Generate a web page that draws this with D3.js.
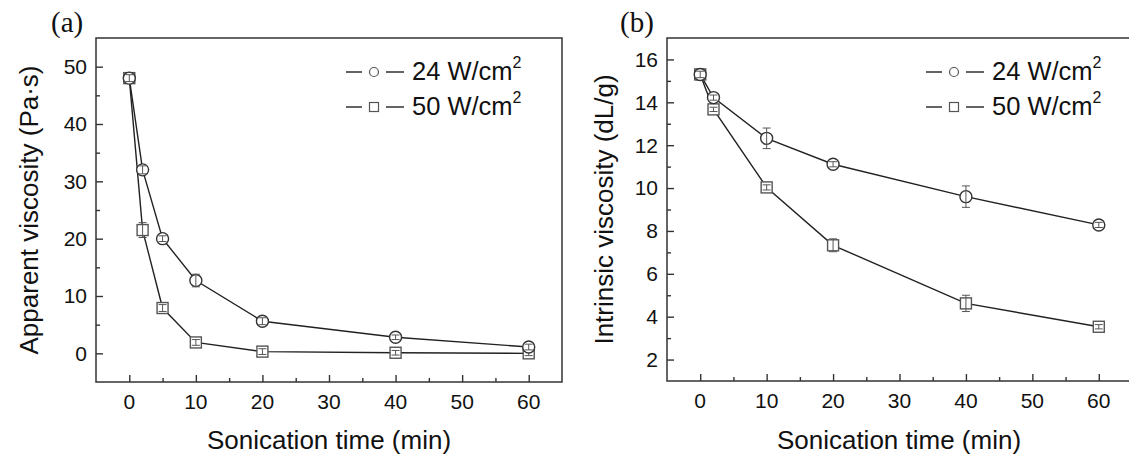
<!DOCTYPE html>
<html>
<head>
<meta charset="utf-8">
<script src="https://cdn.jsdelivr.net/npm/d3@7"></script>
<style>
  body { margin: 0; background: #fff; }
  svg { display: block; }
</style>
</head>
<body>
<script>
'use strict';

// panel (a): apparent viscosity
const timesA = [0, 2, 5, 10, 20, 40, 60];
const viscA24 = [48.0, 32.0, 20.0, 12.7, 5.6, 2.8, 1.1];
const errA24 = [0.6, 0.7, 0.5, 1.1, 0.6, 0.4, 0.5];
const viscA50 = [48.0, 21.5, 7.9, 1.9, 0.3, 0.1, 0.0];
const errA50 = [0.5, 1.3, 0.6, 0.5, 0.5, 0.4, 0.4];

// panel (b): intrinsic viscosity
const timesB = [0, 2, 10, 20, 40, 60];
const viscB24 = [15.3, 14.22, 12.32, 11.11, 9.6, 8.28];
const errB24 = [0.15, 0.12, 0.48, 0.12, 0.5, 0.12];
const viscB50 = [15.3, 13.67, 10.03, 7.33, 4.62, 3.53];
const errB50 = [0.25, 0.1, 0.12, 0.3, 0.38, 0.1];

const xTicks = [0, 10, 20, 30, 40, 50, 60];
const yTicksA = [0, 10, 20, 30, 40, 50];
const yTicksB = [2, 4, 6, 8, 10, 12, 14, 16];
const seriesNames = ['24 W/cm', '50 W/cm'];

(function() {

  let svg = d3.select('body')
    .append('svg')
    .attr('width', 1129)
    .attr('height', 461);

  const sans = '"Liberation Sans", Arial, sans-serif';
  const serif = '"Liberation Serif", "Times New Roman", serif';

  drawPanel({
    left: 96, right: 562, top: 38, bottom: 382,
    xDomain: [-5, 65], yDomain: [-5, 55],
    yTicks: yTicksA, yMinor: d3.range(5, 55, 10),
    times: timesA,
    series: [
      { values: viscA50, err: errA50, shape: 'square' },
      { values: viscA24, err: errA24, shape: 'circle' }
    ],
    label: '(a)', labelX: 51,
    yTitle: 'Apparent viscosity (Pa\u00B7s)', yTitleX: 38,
    legendX: 346
  });

  drawPanel({
    left: 667, right: 1132, top: 38, bottom: 381,
    xDomain: [-5, 65], yDomain: [1, 17],
    yTicks: yTicksB, yMinor: d3.range(3, 17, 2),
    times: timesB,
    series: [
      { values: viscB50, err: errB50, shape: 'square' },
      { values: viscB24, err: errB24, shape: 'circle' }
    ],
    label: '(b)', labelX: 620,
    yTitle: 'Intrinsic viscosity (dL/g)', yTitleX: 613,
    legendX: 926
  });

  function drawPanel(p) {
    let g = svg.append('g');

    let xScale = d3.scaleLinear().domain(p.xDomain).range([p.left, p.right]);
    let yScale = d3.scaleLinear().domain(p.yDomain).range([p.bottom, p.top]);

    // frame
    g.append('rect')
      .attr('x', p.left)
      .attr('y', p.top)
      .attr('width', p.right - p.left)
      .attr('height', p.bottom - p.top)
      .attr('fill', 'none')
      .attr('stroke', '#333')
      .attr('stroke-width', 1.5);

    // x axis: ticks inward, labels below
    let xAxis = d3.axisTop(xScale)
      .tickValues(xTicks)
      .tickSize(7)
      .tickFormat('');
    let xg = g.append('g')
      .attr('transform', 'translate(0,' + p.bottom + ')')
      .call(xAxis);
    let xMinor = d3.axisTop(xScale)
      .tickValues(d3.range(5, 65, 10))
      .tickSize(4)
      .tickFormat('');
    let xmg = g.append('g')
      .attr('transform', 'translate(0,' + p.bottom + ')')
      .call(xMinor);

    // y axis: ticks inward, labels left
    let yAxis = d3.axisRight(yScale)
      .tickValues(p.yTicks)
      .tickSize(7)
      .tickFormat('');
    let yg = g.append('g')
      .attr('transform', 'translate(' + p.left + ',0)')
      .call(yAxis);
    let yMinorAxis = d3.axisRight(yScale)
      .tickValues(p.yMinor)
      .tickSize(4)
      .tickFormat('');
    let ymg = g.append('g')
      .attr('transform', 'translate(' + p.left + ',0)')
      .call(yMinorAxis);

    [xg, xmg, yg, ymg].forEach(function(a) {
      a.select('.domain').remove();
      a.selectAll('line').attr('stroke', '#333').attr('stroke-width', 1.4);
    });

    // tick labels
    g.selectAll('.xlab')
      .data(xTicks)
      .enter()
      .append('text')
      .attr('x', d => xScale(d))
      .attr('y', p.bottom + 27)
      .attr('text-anchor', 'middle')
      .style('font', '21px ' + sans)
      .attr('fill', '#111')
      .text(d => d);

    g.selectAll('.ylab')
      .data(p.yTicks)
      .enter()
      .append('text')
      .attr('x', p.left - 9)
      .attr('y', d => yScale(d))
      .attr('dy', '0.35em')
      .attr('text-anchor', 'end')
      .style('font', '21px ' + sans)
      .attr('fill', '#111')
      .text(d => d);

    // axis titles
    g.append('text')
      .attr('x', (p.left + Math.min(p.right, 1131)) / 2)
      .attr('y', 449)
      .attr('text-anchor', 'middle')
      .style('font', '26px ' + sans)
      .attr('fill', '#111')
      .text('Sonication time (min)');

    g.append('text')
      .attr('transform', 'translate(' + p.yTitleX + ',' + ((p.top + p.bottom) / 2) + ')rotate(-90)')
      .attr('text-anchor', 'middle')
      .style('font', '26px ' + sans)
      .attr('fill', '#111')
      .text(p.yTitle);

    // panel label
    g.append('text')
      .attr('x', p.labelX)
      .attr('y', 32)
      .style('font', '29px ' + serif)
      .attr('fill', '#111')
      .text(p.label);

    // lines
    const line = d3.line()
      .x((d, i) => xScale(p.times[i]))
      .y(d => yScale(d));

    p.series.forEach(function(s) {
      g.append('path')
        .datum(s.values)
        .attr('d', line)
        .attr('fill', 'none')
        .attr('stroke', '#222')
        .attr('stroke-width', 1.4);
    });

    // markers and error bars
    p.series.forEach(function(s) {
      let pts = s.values.map((v, i) => ({ t: p.times[i], v: v, e: s.err[i] }));
      drawMarkers(g, pts, s.shape, xScale, yScale, 6, '#333');

      let eb = g.append('g')
        .attr('stroke', '#555')
        .attr('stroke-width', 1);
      pts.forEach(function(d) {
        let cx = xScale(d.t);
        eb.append('line')
          .attr('x1', cx).attr('x2', cx)
          .attr('y1', yScale(d.v - d.e)).attr('y2', yScale(d.v + d.e));
        [d.v - d.e, d.v + d.e].forEach(function(c) {
          eb.append('line')
            .attr('x1', cx - 4).attr('x2', cx + 4)
            .attr('y1', yScale(c)).attr('y2', yScale(c));
        });
      });
    });

    // legend
    const rows = [
      { name: seriesNames[0], shape: 'circle', y: 72 },
      { name: seriesNames[1], shape: 'square', y: 107 }
    ];
    rows.forEach(function(r) {
      let lx = p.legendX;
      g.append('line')
        .attr('x1', lx).attr('x2', lx + 16)
        .attr('y1', r.y).attr('y2', r.y)
        .attr('stroke', '#222').attr('stroke-width', 1.4);
      g.append('line')
        .attr('x1', lx + 40).attr('x2', lx + 58)
        .attr('y1', r.y).attr('y2', r.y)
        .attr('stroke', '#222').attr('stroke-width', 1.4);
      if (r.shape === 'circle') {
        g.append('circle')
          .attr('cx', lx + 28).attr('cy', r.y).attr('r', 4.5)
          .attr('fill', '#fff').attr('stroke', '#555').attr('stroke-width', 1.2);
      } else {
        g.append('rect')
          .attr('x', lx + 23.5).attr('y', r.y - 4.5)
          .attr('width', 9).attr('height', 9)
          .attr('fill', '#fff').attr('stroke', '#555').attr('stroke-width', 1.2);
      }
      let t = g.append('text')
        .attr('x', lx + 66)
        .attr('y', r.y + 8)
        .style('font', '25.5px ' + sans)
        .attr('fill', '#111');
      t.append('tspan').text(r.name);
      t.append('tspan')
        .attr('dy', -12)
        .style('font-size', '16px')
        .text('2');
    });
  }

  function drawMarkers(g, pts, shape, xScale, yScale, r, color) {
    if (shape === 'circle') {
      g.selectAll(null)
        .data(pts)
        .enter()
        .append('circle')
        .attr('cx', d => xScale(d.t))
        .attr('cy', d => yScale(d.v))
        .attr('r', r)
        .attr('fill', '#fff')
        .attr('stroke', color)
        .attr('stroke-width', 1.4);
    } else {
      g.selectAll(null)
        .data(pts)
        .enter()
        .append('rect')
        .attr('x', d => xScale(d.t) - r + 0.5)
        .attr('y', d => yScale(d.v) - r + 0.5)
        .attr('width', 2 * r - 1)
        .attr('height', 2 * r - 1)
        .attr('fill', '#fff')
        .attr('stroke', '#555')
        .attr('stroke-width', 1.4);
    }
  }

})();
</script>
</body>
</html>
